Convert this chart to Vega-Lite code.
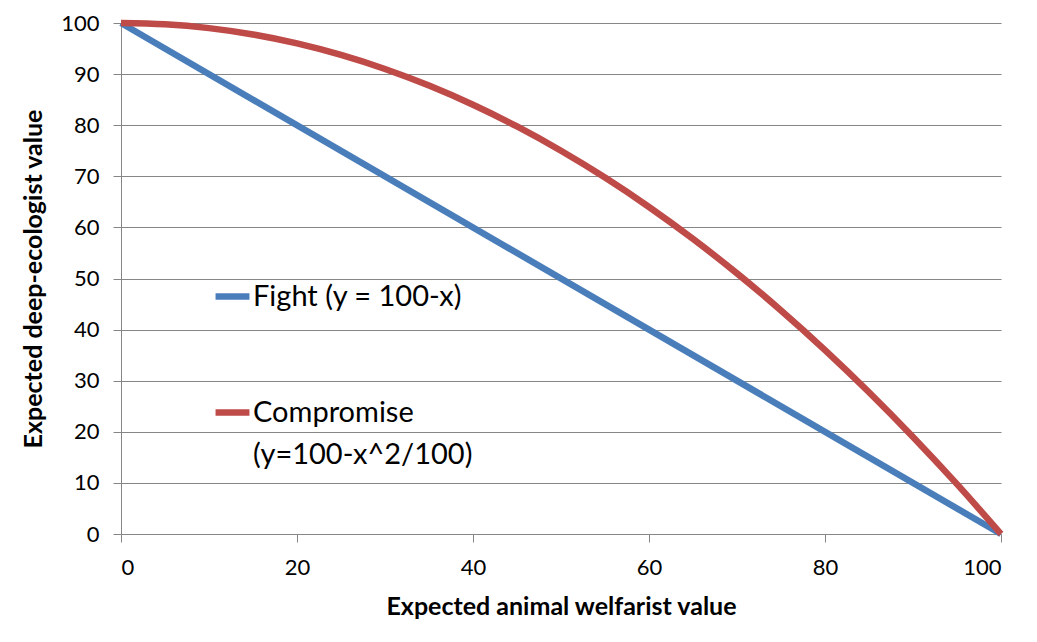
{
  "$schema": "https://vega.github.io/schema/vega-lite/v6.json",
  "width": 880,
  "height": 511,
  "autosize": {"type": "none"},
  "padding": {"left": 121, "top": 23, "right": 36, "bottom": 108},
  "background": "white",
  "config": {
    "view": {"stroke": null},
    "font": "Lato",
    "axis": {
      "labelFont": "Lato",
      "labelFontSize": 22,
      "labelColor": "black",
      "titleFont": "Lato",
      "titleFontSize": 25,
      "titleFontWeight": "bold",
      "titleColor": "black",
      "domainColor": "#868686",
      "tickColor": "#868686",
      "gridColor": "#868686",
      "tickSize": 8
    }
  },
  "data": {
    "values": [
      {"x": 0, "y": 100, "series": "Fight (y = 100-x)"},
      {"x": 100, "y": 0, "series": "Fight (y = 100-x)"},
      {"x": 0, "y": 100, "series": "Compromise"},
      {"x": 5, "y": 99.75, "series": "Compromise"},
      {"x": 10, "y": 99, "series": "Compromise"},
      {"x": 15, "y": 97.75, "series": "Compromise"},
      {"x": 20, "y": 96, "series": "Compromise"},
      {"x": 25, "y": 93.75, "series": "Compromise"},
      {"x": 30, "y": 91, "series": "Compromise"},
      {"x": 35, "y": 87.75, "series": "Compromise"},
      {"x": 40, "y": 84, "series": "Compromise"},
      {"x": 45, "y": 79.75, "series": "Compromise"},
      {"x": 50, "y": 75, "series": "Compromise"},
      {"x": 55, "y": 69.75, "series": "Compromise"},
      {"x": 60, "y": 64, "series": "Compromise"},
      {"x": 65, "y": 57.75, "series": "Compromise"},
      {"x": 70, "y": 51, "series": "Compromise"},
      {"x": 75, "y": 43.75, "series": "Compromise"},
      {"x": 80, "y": 36, "series": "Compromise"},
      {"x": 85, "y": 27.75, "series": "Compromise"},
      {"x": 90, "y": 19, "series": "Compromise"},
      {"x": 95, "y": 9.75, "series": "Compromise"},
      {"x": 100, "y": 0, "series": "Compromise"}
    ]
  },
  "mark": {"type": "line", "strokeWidth": 6.5, "interpolate": "monotone"},
  "encoding": {
    "x": {
      "field": "x",
      "type": "quantitative",
      "scale": {"domain": [0, 100], "nice": false},
      "axis": {
        "title": "Expected animal welfarist value",
        "values": [0, 20, 40, 60, 80, 100],
        "grid": false,
        "labelPadding": 15,
        "titlePadding": 16
      }
    },
    "y": {
      "field": "y",
      "type": "quantitative",
      "scale": {"domain": [0, 100], "nice": false},
      "axis": {
        "title": "Expected deep-ecologist value",
        "values": [0, 10, 20, 30, 40, 50, 60, 70, 80, 90, 100],
        "grid": true,
        "labelPadding": 14,
        "titlePadding": 14
      }
    },
    "color": {
      "field": "series",
      "type": "nominal",
      "sort": ["Fight (y = 100-x)", "Compromise"],
      "scale": {"domain": ["Fight (y = 100-x)", "Compromise"], "range": ["#4A7EBB", "#BE4B48"]},
      "legend": {
        "title": null,
        "orient": "none",
        "legendX": 91,
        "legendY": 253,
        "symbolType": "stroke",
        "symbolSize": 1150,
        "symbolStrokeWidth": 6.5,
        "labelFont": "Lato",
        "labelFontSize": 29,
        "labelColor": "black",
        "labelLimit": 400,
        "labelOffset": 0,
        "rowPadding": 80,
        "labelExpr": "datum.label == 'Compromise' ? ['Compromise', '(y=100-x^2/100)'] : datum.label",
        "encode": {
          "labels": {
            "update": {
              "lineHeight": {"value": 42},
              "baseline": {"value": "middle"}
            }
          }
        }
      }
    }
  }
}
